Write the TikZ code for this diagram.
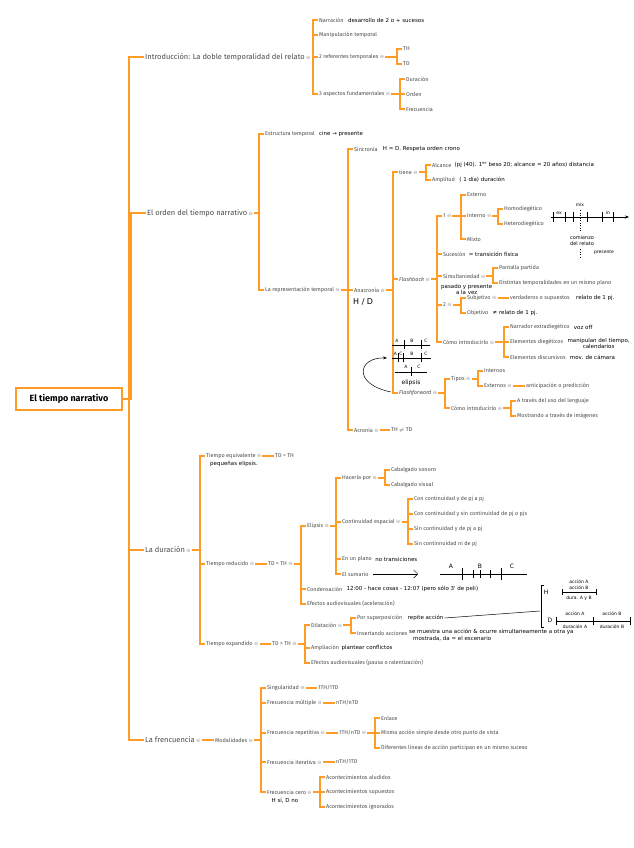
\documentclass[tikz,border=0pt]{standalone}
\usepackage{fontspec}
\setmainfont{Fira Sans}
\newfontfamily\hand{DejaVu Sans}
\newfontfamily\dejavu{DejaVu Sans}
\usetikzlibrary{arrows.meta,positioning,calc}
\definecolor{mmorange}{HTML}{FF9C26}
\definecolor{txtgray}{HTML}{4A4A4A}
\definecolor{foldgray}{HTML}{9A9A9A}
\newcommand{\fold}{\hspace{1.5pt}{\dejavu\fontsize{5}{5}\selectfont\textcolor{foldgray}{⊖}}}
\newcommand{\link}[3][5pt]{\draw[branch] (#2.east) -| ([xshift=-#1]#3.west) -- (#3.west);}

\begin{document}
\begin{tikzpicture}[x=1pt,y=-1pt,
  branch/.style={draw=mmorange,line width=1.1pt},
  rootbox/.style={draw=mmorange,line width=1.2pt,fill=white,text=black,font=\fontsize{9}{10}\selectfont\bfseries,minimum width=106pt,minimum height=22pt,inner sep=2pt},
  lvone/.style={anchor=west,inner sep=1pt,text=txtgray,font=\fontsize{7.5}{8}\selectfont},
  leaf/.style={anchor=west,inner sep=1pt,text=txtgray,font=\fontsize{5.5}{6}\selectfont},
  hand/.style={anchor=west,inner sep=1pt,text=black,font=\hand\fontsize{5.5}{6.5}\selectfont},
  sketch/.style={draw=black,line width=0.5pt},
  sklabel/.style={inner sep=0pt,text=black,font=\hand\fontsize{4.5}{5}\selectfont}]
  \useasboundingbox (0,0) rectangle (633,848);

  % root and main branches
  \node[rootbox] (root) at (69,399) {El tiempo narrativo};
  \node[lvone] (intro) at (144,57) {Introducción: La doble temporalidad del relato\fold};
  \node[lvone] (orden) at (146,213) {El orden del tiempo narrativo\fold};
  \node[lvone] (durac) at (144,550) {La duración\fold};
  \node[lvone] (frec) at (144,740) {La frencuencia\fold};
  \foreach \n in {intro,orden,durac,frec}{\link[15pt]{root}{\n}}

  % introduccion
  \node[leaf] (narr) at (318,20) {Narración};
  \node[hand,right=2pt of narr] {desarrollo de 2 o + sucesos};
  \node[leaf] (manip) at (318,35) {Manipulación temporal};
  \node[leaf] (refs) at (318,57) {2 referentes temporales\fold};
  \node[leaf] (th) at (402,49) {TH};
  \node[leaf] (td) at (402,64) {TD};
  \node[leaf] (asp) at (318,94) {3 aspectos fundamentales\fold};
  \node[leaf] (dur) at (405,79) {Duración};
  \node[leaf] (ord) at (405,94) {Orden};
  \node[leaf] (frecu) at (405,109) {Frecuencia};
  \foreach \n in {narr,manip,refs,asp}{\link{intro}{\n}}
  \foreach \n in {th,td}{\link{refs}{\n}}
  \foreach \n in {dur,ord,frecu}{\link{asp}{\n}}

  % orden
  \node[leaf] (estr) at (264,134) {Estructura temporal};
  \node[hand,right=2pt of estr] {cine → presente};
  \node[leaf] (repr) at (264,290) {La representación temporal\fold};
  \link{orden}{estr} \link{orden}{repr}
  \node[leaf] (sinc) at (353,149) {Sincronía};
  \node[hand,right=3pt of sinc] {H = D. Respeta orden crono};
  \node[leaf] (anac) at (353,290) {Anacronía\fold};
  \node[hand,font=\hand\fontsize{8}{9}\selectfont] at (352,302) {H / D};
  \node[leaf] (acro) at (353,430) {Acronía\fold};
  \node[leaf] (thtd) at (390,430) {TH $\neq$ TD};
  \foreach \n in {sinc,anac,acro}{\link{repr}{\n}}
  \link{acro}{thtd}

  \node[leaf] (tiene) at (398,172) {tiene\fold};
  \node[leaf] (fb) at (398,279) {\itshape Flashback\fold};
  \node[leaf] (ff) at (398,393) {\itshape Flashforward\fold};
  \foreach \n in {tiene,fb,ff}{\link{anac}{\n}}
  \node[leaf] (alc) at (431,165) {Alcance};
  \node[hand,right=1pt of alc] {(pj (40). 1\textsuperscript{er} beso 20; alcance = 20 años) distancia};
  \node[leaf] (ampl) at (431,180) {Amplitud};
  \node[hand,right=2pt of ampl] {( 1 día) duración};
  \link{tiene}{alc} \link{tiene}{ampl}

  \node[leaf] (uno) at (442,216) {1\fold};
  \node[leaf] (suc) at (442,254) {Sucesión};
  \node[hand,right=1pt of suc] {= transición física};
  \node[leaf] (simu) at (442,276) {Simultaniedad\fold};
  \node[hand,align=center,anchor=north west] at (440,283) {pasado y presente\\a la vez};
  \node[leaf] (dos) at (442,305) {2\fold};
  \node[leaf] (como) at (442,342) {Cómo introducirlo\fold};
  \foreach \n in {uno,suc,simu,dos,como}{\link{fb}{\n}}
  \node[leaf] (ext) at (466,195) {Externo};
  \node[leaf] (inter) at (466,216) {Interno\fold};
  \node[leaf] (mixto) at (466,239) {Mixto};
  \foreach \n in {ext,inter,mixto}{\link{uno}{\n}}
  \node[leaf] (homo) at (503,209) {Homodiegético};
  \node[leaf] (hetero) at (503,224) {Heterodiegético};
  \link{inter}{homo} \link{inter}{hetero}
  \node[leaf] (pant) at (498,268) {Pantalla partida};
  \node[leaf] (dist) at (498,283) {Distintas temporalidades en un mismo plano};
  \link{simu}{pant} \link{simu}{dist}
  \node[leaf] (subj) at (466,298) {Subjetivo\fold};
  \node[leaf] (verd) at (509,298) {verdaderos o supuestos};
  \node[hand,right=4pt of verd] {relato de 1 pj.};
  \node[leaf] (obj) at (466,313) {Objetivo};
  \node[hand,right=2pt of obj] {≠ relato de 1 pj.};
  \link{dos}{subj} \link{dos}{obj} \link{subj}{verd}
  \node[leaf] (narrx) at (509,327) {Narrador extradiegético};
  \node[hand,right=2pt of narrx] {voz off};
  \node[leaf] (elemd) at (509,342) {Elementos diegéticos};
  \node[hand,align=center,anchor=north west] at ([xshift=2pt,yshift=1pt]elemd.north east) {manipulan del tiempo,\\calendarios};
  \node[leaf] (elemdis) at (509,357) {Elementos discursivos};
  \node[hand,right=2pt of elemdis] {mov. de cámara};
  \foreach \n in {narrx,elemd,elemdis}{\link{como}{\n}}

  \node[leaf] (tipos) at (450,379) {Tipos\fold};
  \node[leaf] (como2) at (450,408) {Cómo introducirlo\fold};
  \link{ff}{tipos} \link{ff}{como2}
  \node[leaf] (intn) at (483,371) {Internos};
  \node[leaf] (extn) at (483,386) {Externos\fold};
  \node[leaf] (antic) at (525,386) {anticipación o predicción};
  \link{tipos}{intn} \link{tipos}{extn} \link{extn}{antic}
  \node[leaf] (lenguaje) at (516,401) {A través del uso del lenguaje};
  \node[leaf] (imag) at (516,416) {Mostrando a través de imágenes};
  \link{como2}{lenguaje} \link{como2}{imag}

  % sketch: ex / mix / in
  \draw[sketch,-{Stealth[length=4pt]}] (551,217) -- (629,217);
  \foreach \x in {553,565,573,587,602,613}{\draw[sketch] (\x,212) -- (\x,222);}
  \draw[sketch,dotted] (580,210) -- (580,232);
  \draw[sketch,dotted] (580,249) -- (580,258);
  \node[sklabel] at (559,213) {ex};
  \node[sklabel] at (580,205) {mix};
  \node[sklabel] at (608,213) {in};
  \node[sklabel,align=center,font=\hand\fontsize{5}{6}\selectfont] at (582,241) {comienzo\\del relato};
  \node[sklabel] at (604,252) {presente};

  % sketch: A B C
  \draw[sketch] (392,345) -- (430,345);
  \foreach \x in {404,421}{\draw[sketch] (\x,340) -- (\x,349);}
  \foreach \x/\t in {397/A,412/B,426/C}{\node[sklabel] at (\x,341) {\t};}
  \draw[sketch] (392,358) -- (431,358);
  \foreach \x in {398.5,403.5,421}{\draw[sketch] (\x,353) -- (\x,362);}
  \foreach \x/\t in {395.5/A,401/C,412/B,426/C}{\node[sklabel] at (\x,354) {\t};}
  \draw[sketch] (395,372) -- (427,372);
  \draw[sketch] (411,367) -- (411,376);
  \foreach \x/\t in {406/A,419/C}{\node[sklabel] at (\x,367) {\t};}
  \node[sklabel,font=\hand\fontsize{6}{7}\selectfont] at (411,383) {elipsis};
  \draw[sketch,-{Stealth[length=4pt]}] (391,392) .. controls (352,384) and (358,357) .. (387,358);

  % duracion
  \node[leaf] (teq) at (205,456) {Tiempo equivalente\fold};
  \node[leaf] (tdth) at (274,456) {TD = TH};
  \node[hand,anchor=north west] at (209,460) {pequeñas elipsis.};
  \node[leaf] (tred) at (205,564) {Tiempo reducido\fold};
  \node[leaf] (texp) at (205,644) {Tiempo expandido\fold};
  \foreach \n in {teq,tred,texp}{\link{durac}{\n}}
  \link{teq}{tdth}
  \node[leaf] (tdlt) at (267,564) {TD < TH\fold};
  \link{tred}{tdlt}
  \node[leaf] (elip) at (306,526) {Elipsis\fold};
  \node[leaf] (cond) at (306,589) {Condensación};
  \node[hand,right=2pt of cond] {12:00 - hace cosas - 12:07 (pero sólo 3' de peli)};
  \node[leaf] (efa) at (306,604) {Efectos audiovisuales (aceleración)};
  \foreach \n in {elip,cond,efa}{\link{tdlt}{\n}}
  \node[leaf] (hac) at (341,478) {Hacerla por\fold};
  \node[leaf] (cont) at (341,522) {Continuidad espacial\fold};
  \node[leaf] (plano) at (341,559) {En un plano};
  \node[hand,right=1pt of plano] {no transiciones};
  \node[leaf] (sum) at (341,574) {El sumario};
  \foreach \n in {hac,cont,plano,sum}{\link{elip}{\n}}
  \node[leaf] (cabs) at (390,470) {Cabalgado sonoro};
  \node[leaf] (cabv) at (390,485) {Cabalgado visual};
  \link{hac}{cabs} \link{hac}{cabv}
  \node[leaf] (c1) at (413,499) {Con continuidad y de pj a pj};
  \node[leaf] (c2) at (413,514) {Con continuidad y sin continuidad de pj o pjs};
  \node[leaf] (c3) at (413,529) {Sin continuidad y de pj a pj};
  \node[leaf] (c4) at (413,544) {Sin continnuidad ni de pj};
  \foreach \n in {c1,c2,c3,c4}{\link{cont}{\n}}

  % sketch: sumario
  \draw[sketch,-{Straight Barb[length=4pt]}] (373,574) -- (418,574);
  \draw[sketch] (440,574) -- (527,574);
  \foreach \x in {462,501}{\draw[sketch] (\x,568) -- (\x,580);}
  \foreach \x in {473,480,490}{\draw[sketch] (\x,570) -- (\x,578);}
  \foreach \x/\t in {451/A,480/B,512/C}{\node[sklabel,font=\hand\fontsize{6}{7}\selectfont] at (\x,566) {\t};}

  \node[leaf] (tdgt) at (271,644) {TD > TH\fold};
  \link{texp}{tdgt}
  \node[leaf] (dil) at (310,625) {Dilatación\fold};
  \node[leaf] (ampl2) at (310,648) {Ampliación};
  \node[hand,right=0pt of ampl2] {plantear conflictos};
  \node[leaf] (efp) at (310,663) {Efectos audiovisuales (pausa o ralentización)};
  \foreach \n in {dil,ampl2,efp}{\link{tdgt}{\n}}
  \node[leaf] (sup) at (356,618) {Por superposición};
  \node[hand,right=3pt of sup] (rep) {repite acción};
  \node[leaf] (ins) at (356,633) {Insertando acciones};
  \node[hand,align=left,anchor=north west] at (408,628) {se muestra una acción \& ocurre simultaneamente a otra ya\\\hspace{4pt}mostrada, da = el escenario};
  \link{dil}{sup} \link{dil}{ins}

  % sketch: H / D
  \draw[sketch] (544,585) -- (541,585) -- (541,627) -- (544,627);
  \draw[sketch] (rep.east) -- (540,611);
  \node[sklabel,font=\hand\fontsize{6}{7}\selectfont] at (546,592) {H};
  \node[sklabel,font=\hand\fontsize{6}{7}\selectfont] at (550,620) {D};
  \draw[sketch] (562,592) -- (596,592);
  \foreach \x in {562,596}{\draw[sketch] (\x,589) -- (\x,595);}
  \node[sklabel] at (579,582) {acción A};
  \node[sklabel] at (579,588) {acción B};
  \node[sklabel] at (579,598) {dura. A y B};
  \draw[sketch] (556,621) -- (630,621);
  \foreach \x in {556,593,630}{\draw[sketch] (\x,617) -- (\x,625);}
  \node[sklabel] at (575,614) {acción A};
  \node[sklabel] at (612,614) {acción B};
  \node[sklabel] at (575,627) {duración A};
  \node[sklabel] at (612,627) {duración B};

  % frecuencia
  \node[leaf] (modal) at (214,740) {Modalidades\fold};
  \link{frec}{modal}
  \node[leaf] (sing) at (266,688) {Singularidad\fold};
  \node[leaf] (fmul) at (266,703) {Frecuencia múltiple\fold};
  \node[leaf] (frep) at (266,733) {Frecuencia repetitiva\fold};
  \node[leaf] (fit) at (266,762) {Frecuencia iterativa\fold};
  \node[leaf] (fcero) at (266,792) {Frecuencia cero\fold};
  \node[hand,anchor=north] at (285,797) {H sí, D no};
  \foreach \n in {sing,fmul,frep,fit,fcero}{\link{modal}{\n}}
  \node[leaf] (tt1) at (317,688) {1TH/1TD};
  \node[leaf] (nn) at (335,703) {nTH/nTD};
  \node[leaf] (tn) at (338,733) {1TH/nTD\fold};
  \node[leaf] (n1) at (335,762) {nTH/1TD};
  \link{sing}{tt1} \link{fmul}{nn} \link{frep}{tn} \link{fit}{n1}
  \node[leaf] (enl) at (380,718) {Enlace};
  \node[leaf] (misma) at (380,733) {Misma acción simple desde otro punto de vista};
  \node[leaf] (difer) at (380,748) {Diferentes líneas de acción participan en un mismo suceso};
  \foreach \n in {enl,misma,difer}{\link{tn}{\n}}
  \node[leaf] (alud) at (325,777) {Acontecimientos aludidos};
  \node[leaf] (supu) at (325,792) {Acontecimientos supuestos};
  \node[leaf] (ign) at (325,807) {Acontecimientos ignorados};
  \foreach \n in {alud,supu,ign}{\link{fcero}{\n}}
\end{tikzpicture}
\end{document}
